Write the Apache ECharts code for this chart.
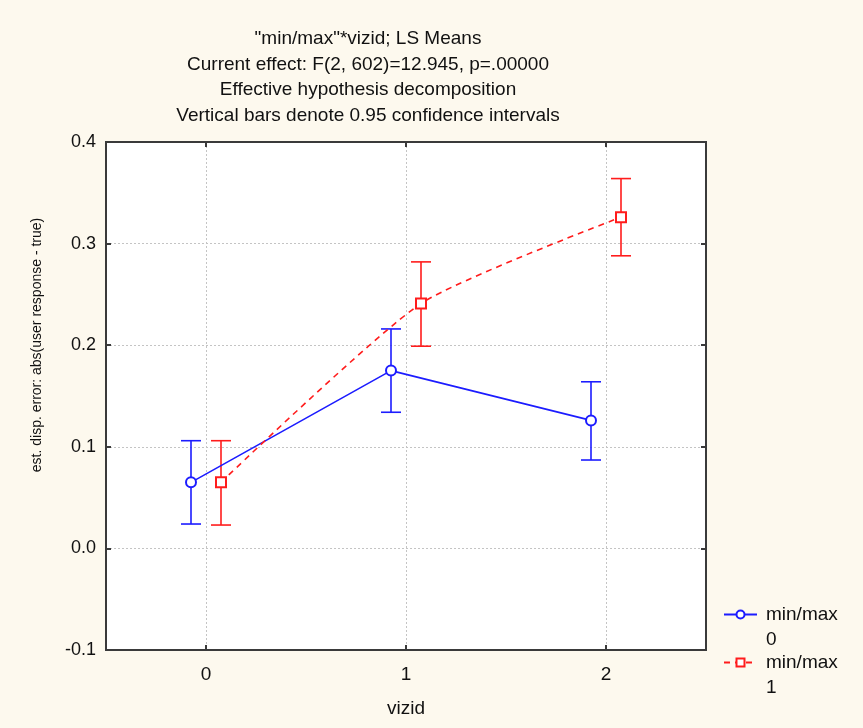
<!DOCTYPE html>
<html>
<head>
<meta charset="utf-8">
<script src="https://cdn.jsdelivr.net/npm/echarts@6/dist/echarts.min.js"></script>
<style>
  html, body { margin: 0; padding: 0; background: #fdf9ee; }
  #chart { width: 863px; height: 728px; }
</style>
</head>
<body>
<div id="chart"></div>
<script>
// LS means per vizid level, one set of arrays per min/max group
const vizid = [0, 1, 2]
const shift = 0.075
const meanMin0 = [0.065, 0.175, 0.126]
const lowMin0 = [0.024, 0.134, 0.087]
const highMin0 = [0.106, 0.216, 0.164]
const meanMin1 = [0.065, 0.241, 0.326]
const lowMin1 = [0.023, 0.199, 0.288]
const highMin1 = [0.106, 0.282, 0.364]
const titleLines = [
  '"min/max"*vizid; LS Means',
  'Current effect: F(2, 602)=12.945, p=.00000',
  'Effective hypothesis decomposition',
  'Vertical bars denote 0.95 confidence intervals',
]

const font = 'Liberation Sans, Arial, sans-serif'
const blue = '#1c1cff'
const red = '#ff1c1c'
const frame = '#3a3a3a'
const ink = '#111111'

const points = (means, dx) => vizid.map((v, i) => [v + dx, means[i]])
const bars = (lows, highs, dx) => vizid.map((v, i) => [v + dx, lows[i], highs[i]])

const errorBar = (params, api) => {
  const x = api.value(0)
  const lo = api.coord([x, api.value(1)])
  const hi = api.coord([x, api.value(2)])
  const half = 10
  const style = { stroke: api.visual('color'), lineWidth: 1.6 }
  return {
    type: 'group',
    children: [
      { type: 'line', shape: { x1: lo[0], y1: lo[1], x2: hi[0], y2: hi[1] }, style },
      { type: 'line', shape: { x1: lo[0] - half, y1: lo[1], x2: lo[0] + half, y2: lo[1] }, style },
      { type: 'line', shape: { x1: hi[0] - half, y1: hi[1], x2: hi[0] + half, y2: hi[1] }, style },
    ],
  }
}

const tick = { inside: true, length: 5, lineStyle: { color: frame, width: 2 } }
const grid = { color: '#c4c4c4', type: [2, 2], width: 1 }

const xBase = {
  type: 'value',
  min: -0.5,
  max: 2.5,
  splitNumber: 3,
  minInterval: 1,
  maxInterval: 1,
  axisLine: { show: false, onZero: false },
  axisTick: tick,
}
const yBase = {
  type: 'value',
  min: -0.1,
  max: 0.4,
  interval: 0.1,
  axisLine: { show: false, onZero: false },
  axisTick: tick,
}

const legendText = { fontFamily: font, fontSize: 19, color: ink, lineHeight: 25, padding: [0, 0, 0, 4] }

const chart = echarts.init(document.getElementById('chart'))
chart.setOption({
  backgroundColor: '#fdf9ee',
  animation: false,
  textStyle: { fontFamily: font },
  title: {
    text: titleLines.join('\n'),
    left: 368,
    top: 26,
    padding: 0,
    textAlign: 'center',
    textStyle: { fontFamily: font, fontSize: 19, fontWeight: 'normal', color: ink, lineHeight: 25.7 },
  },
  grid: {
    left: 106, top: 142, width: 600, height: 508,
    show: true, backgroundColor: '#ffffff', borderColor: frame, borderWidth: 2,
  },
  legend: [
    {
      data: ['min/max\n0'],
      left: 723, top: 577, padding: 0,
      itemWidth: 33, itemHeight: 10,
      formatter: (name) => '\n' + name,
      textStyle: legendText,
    },
    {
      data: ['min/max\n1'],
      left: 723, top: 625, padding: 0,
      itemWidth: 33, itemHeight: 10,
      formatter: (name) => '\n' + name,
      textStyle: legendText,
    },
  ],
  xAxis: [
    Object.assign({}, xBase, {
      position: 'bottom',
      name: 'vizid',
      nameLocation: 'middle',
      nameGap: 49,
      nameTextStyle: { fontFamily: font, fontSize: 19, color: ink },
      axisLabel: {
        margin: 15, fontSize: 19, color: ink, fontFamily: font,
        formatter: (v) => (Number.isInteger(v) ? String(v) : ''),
      },
      splitLine: { show: true, showMinLine: false, showMaxLine: false, lineStyle: grid },
    }),
    Object.assign({}, xBase, {
      position: 'top',
      axisLabel: { show: false },
      splitLine: { show: false },
    }),
  ],
  yAxis: [
    Object.assign({}, yBase, {
      position: 'left',
      name: 'est. disp. error: abs(user response - true)',
      nameLocation: 'middle',
      nameGap: 62,
      nameTextStyle: { fontFamily: font, fontSize: 14, color: ink, padding: [0, 0, 0, 102] },
      axisLabel: {
        margin: 10, fontSize: 18, color: ink, fontFamily: font,
        formatter: (v) => v.toFixed(1),
      },
      splitLine: { show: true, showMinLine: false, showMaxLine: false, lineStyle: grid },
    }),
    Object.assign({}, yBase, {
      position: 'right',
      axisLabel: { show: false },
      splitLine: { show: false },
    }),
  ],
  series: [
    {
      type: 'custom',
      renderItem: errorBar,
      itemStyle: { color: blue },
      data: bars(lowMin0, highMin0, -shift),
      encode: { x: 0, y: [1, 2] },
      z: 1,
      silent: true,
    },
    {
      type: 'custom',
      renderItem: errorBar,
      itemStyle: { color: red },
      data: bars(lowMin1, highMin1, shift),
      encode: { x: 0, y: [1, 2] },
      z: 1,
      silent: true,
    },
    {
      name: 'min/max\n0',
      type: 'line',
      data: points(meanMin0, -shift),
      symbol: 'emptyCircle',
      symbolSize: 10,
      color: blue,
      lineStyle: { color: blue, width: 1.6 },
      itemStyle: { color: blue, borderWidth: 1.6 },
      z: 3,
    },
    {
      name: 'min/max\n1',
      type: 'line',
      data: points(meanMin1, shift),
      smooth: 0.2,
      symbol: 'emptyRect',
      symbolSize: 10,
      color: red,
      lineStyle: { color: red, width: 1.6, type: [6, 5] },
      itemStyle: { color: red, borderWidth: 1.6 },
      z: 3,
    },
  ],
})
</script>
</body>
</html>
